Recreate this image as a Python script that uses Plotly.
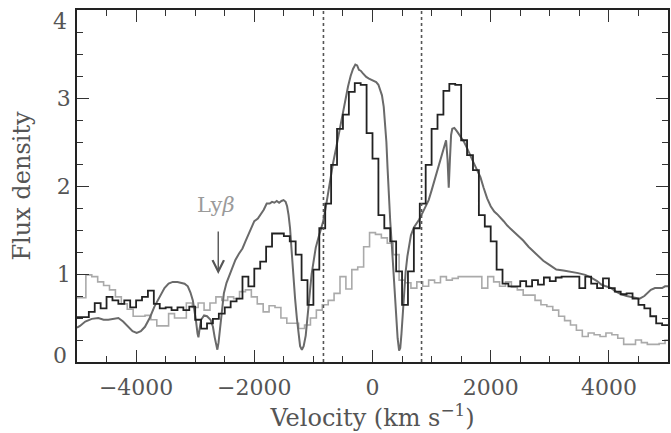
import numpy as np
import plotly.graph_objects as go

# ---------------- data ----------------
# black histogram: 100 km/s bins, left edges -5000 ... 4900
black_edges = np.arange(-5000, 5000, 100)
black_flux = [
    0.51, 0.51, 0.57, 0.67, 0.61, 0.74, 0.70, 0.66, 0.70, 0.62,
    0.70, 0.74, 0.81, 0.66, 0.61, 0.62, 0.59, 0.62, 0.59, 0.63,
    0.48, 0.38, 0.44, 0.49, 0.55, 0.62, 0.69, 0.72, 0.97, 0.86,
    1.06, 1.14, 1.31, 1.46, 1.46, 1.43, 1.37, 1.22, 0.93, 0.65,
    1.05, 1.52, 1.80, 2.24, 2.65, 2.81, 3.07, 3.17, 3.15, 2.60,
    2.31, 1.67, 1.52, 1.37, 1.03, 0.65, 1.03, 1.52, 1.80, 2.24,
    2.65, 2.81, 3.08, 3.16, 3.15, 2.52, 2.35, 2.18, 1.67, 1.54,
    1.37, 1.05, 0.89, 0.86, 0.86, 0.92, 0.86, 0.93, 0.88, 0.96,
    0.92, 0.96, 0.97, 0.97, 0.97, 0.84, 0.97, 0.89, 0.84, 0.95,
    0.84, 0.80, 0.77, 0.78, 0.72, 0.65, 0.61, 0.52, 0.44, 0.42,
]

# light grey histogram: 100 km/s bins centred on -5000 ... 5000
grey_centres = np.arange(-5000, 5001, 100)
grey_flux = [
    0.73, 0.73, 0.99, 0.97, 0.91, 0.87, 0.82, 0.74, 0.66, 0.60,
    0.52, 0.52, 0.53, 0.48, 0.41, 0.41, 0.55, 0.50, 0.50, 0.67,
    0.62, 0.67, 0.59, 0.67, 0.74, 0.70, 0.74, 0.72, 0.80, 0.82,
    0.74, 0.66, 0.57, 0.64, 0.62, 0.50, 0.44, 0.44, 0.38, 0.42,
    0.50, 0.59, 0.65, 0.70, 0.78, 0.97, 0.83, 1.05, 1.08, 1.31,
    1.47, 1.45, 1.41, 1.35, 1.22, 0.93, 0.90, 0.84, 0.91, 0.86,
    0.93, 0.90, 0.97, 0.93, 0.95, 0.97, 0.97, 0.97, 0.97, 0.84,
    0.97, 0.91, 0.86, 0.91, 0.85, 0.82, 0.76, 0.76, 0.70, 0.65,
    0.63, 0.59, 0.52, 0.47, 0.42, 0.36, 0.29, 0.33, 0.31, 0.29,
    0.33, 0.31, 0.27, 0.20, 0.20, 0.25, 0.22, 0.20, 0.20, 0.21,
    0.25,
]

# smooth dark-grey profile
smooth_vel = [
    -5000, -4950, -4860, -4750, -4640, -4550, -4470, -4380, -4300, -4220,
    -4130, -4060, -3990, -3920, -3850, -3770, -3690, -3600, -3520, -3450,
    -3380, -3300, -3240, -3180, -3125, -3080, -3040, -3010, -2985, -2960,
    -2945, -2925, -2900, -2850, -2800, -2740, -2700, -2670, -2640, -2625,
    -2605, -2575, -2545, -2515, -2470, -2430, -2370, -2320, -2260, -2200,
    -2150, -2090, -2040, -2000, -1940, -1880, -1840, -1790, -1740, -1700,
    -1660, -1620, -1580, -1540, -1505, -1470, -1445, -1420, -1395, -1370,
    -1340, -1310, -1280, -1250, -1225, -1195, -1165, -1130, -1095, -1060,
    -1030, -1000, -960, -920, -880, -834, -780, -722, -670, -610,
    -555, -498, -455, -414, -370, -330, -290, -260, -230, -200,
    -162, -130, -106, -60, -22, 20, 62, 100, 130, 160,
    190, 215, 235, 255, 275, 300, 325, 350, 375, 400,
    425, 450, 470, 490, 510, 535, 560, 590, 620, 650,
    700, 750, 790, 850, 900, 950, 1000, 1050, 1100, 1150,
    1200, 1245, 1270, 1290, 1310, 1330, 1350, 1385, 1430, 1490,
    1550, 1600, 1660, 1714, 1770, 1826, 1880, 1940, 2000, 2060,
    2110, 2170, 2220, 2280, 2330, 2400, 2450, 2550, 2640, 2700,
    2780, 2890, 3000, 3110, 3230, 3340, 3480, 3600, 3700, 3800,
    3870, 3950, 4040, 4120, 4210, 4300, 4380, 4460, 4520, 4600,
    4660, 4710, 4780, 4830, 4900, 4950, 5000,
]
smooth_flux = [
    0.39, 0.41, 0.46, 0.49, 0.50, 0.48, 0.48, 0.49, 0.50, 0.46,
    0.40, 0.35, 0.33, 0.35, 0.40, 0.50, 0.63, 0.75, 0.84, 0.89,
    0.91, 0.91, 0.90, 0.89, 0.86, 0.79, 0.70, 0.58, 0.46, 0.32,
    0.28, 0.38, 0.48, 0.53, 0.52, 0.48, 0.40, 0.28, 0.17, 0.14,
    0.22, 0.40, 0.62, 0.78, 0.90, 0.97, 1.07, 1.16, 1.23, 1.29,
    1.37, 1.46, 1.55, 1.60, 1.63, 1.69, 1.73, 1.80, 1.80, 1.82,
    1.81, 1.83, 1.81, 1.83, 1.84, 1.82, 1.77, 1.67, 1.52, 1.28,
    0.97, 0.72, 0.50, 0.30, 0.18, 0.14, 0.18, 0.30, 0.55, 0.80,
    1.00, 1.13, 1.30, 1.40, 1.50, 1.60, 1.80, 2.05, 2.25, 2.45,
    2.65, 2.86, 3.00, 3.13, 3.25, 3.33, 3.38, 3.37, 3.32, 3.31,
    3.28, 3.25, 3.24, 3.22, 3.21, 3.20, 3.18, 3.15, 3.10, 3.03,
    2.90, 2.72, 2.50, 2.20, 1.88, 1.60, 1.35, 1.05, 0.75, 0.50,
    0.27, 0.13, 0.16, 0.32, 0.55, 0.80, 1.02, 1.20, 1.33, 1.44,
    1.53, 1.58, 1.62, 1.70, 1.77, 1.84, 1.95, 2.07, 2.18, 2.29,
    2.40, 2.52, 2.30, 1.98, 2.30, 2.58, 2.65, 2.66, 2.62, 2.56,
    2.50, 2.43, 2.35, 2.26, 2.18, 2.10, 1.98, 1.86, 1.77, 1.71,
    1.68, 1.64, 1.60, 1.55, 1.52, 1.48, 1.45, 1.38, 1.31, 1.27,
    1.22, 1.15, 1.10, 1.05, 1.04, 1.03, 1.01, 0.99, 0.96, 0.92,
    0.88, 0.86, 0.84, 0.80, 0.77, 0.75, 0.74, 0.73, 0.72, 0.75,
    0.79, 0.82, 0.84, 0.84, 0.84, 0.86, 0.86,
]

marker_vel = [-830, 830]          # dotted reference velocities
lyb_vel, lyb_label = -2610, "Ly<i>β</i>"
x_ticks = [-4000, -2000, 0, 2000, 4000]
y_ticks = [0, 1, 2, 3, 4]
y_labels = ["0", "1", "2", "3", "4"]

FONT = "DejaVu Serif"
TXT = "#555555"
TICKSIZE = 22

# ---------------- figure ----------------
BIN = 100
fig = go.Figure()

gx = np.append(grey_centres - BIN / 2, grey_centres[-1] + BIN / 2)
gy = np.append(grey_flux, grey_flux[-1])
fig.add_trace(go.Scatter(x=gx, y=gy, mode="lines", line_shape="hv",
                         line=dict(color="#aaaaaa", width=1.6), hoverinfo="skip"))

fig.add_trace(go.Scatter(x=smooth_vel, y=smooth_flux, mode="lines",
                         line=dict(color="#6a6a6a", width=2.0), hoverinfo="skip"))

bx = np.append(black_edges, black_edges[-1] + BIN)
by = np.append(black_flux, black_flux[-1])
fig.add_trace(go.Scatter(x=bx, y=by, mode="lines", line_shape="hv",
                         line=dict(color="#222222", width=1.8), hoverinfo="skip"))

for v in marker_vel:
    fig.add_shape(type="line", xref="x", yref="paper", x0=v, x1=v, y0=0, y1=1,
                  line=dict(color="#555555", width=1.6, dash="dot"))

fig.add_annotation(x=lyb_vel - 30, y=1.78, text=lyb_label, showarrow=False,
                   font=dict(family=FONT, size=21, color="#9a9a9a"))
fig.add_annotation(x=lyb_vel, y=1.0, ax=lyb_vel, ay=1.5, axref="x", ayref="y",
                   text="", showarrow=True, arrowhead=5, arrowsize=1.6,
                   arrowwidth=1.4, arrowcolor="#555555")

# the end labels of the y axis sit just inside the frame, as in the original
end_shift = {0: 7, 4: -11}
tick_text = [("" if v in end_shift else lab) for v, lab in zip(y_ticks, y_labels)]
for v, lab in zip(y_ticks, y_labels):
    if v in end_shift:
        fig.add_annotation(xref="paper", x=0, y=v, yref="y", text=lab, showarrow=False,
                           xanchor="right", xshift=-8, yshift=end_shift[v],
                           font=dict(family=FONT, size=TICKSIZE, color=TXT))

axis_common = dict(showline=True, linecolor="#222222", linewidth=1.5, mirror="ticks",
                   ticks="inside", ticklen=12, tickwidth=1.2, tickcolor="#333333",
                   showgrid=False, zeroline=False,
                   tickfont=dict(family=FONT, size=TICKSIZE, color=TXT))

fig.update_xaxes(range=[-5000, 5000], tickvals=x_ticks, ticklabelstandoff=5,
                 minor=dict(dtick=500, tick0=0, ticklen=6, ticks="inside",
                            tickcolor="#333333", showgrid=False),
                 title=dict(text="Velocity (km s<sup>−1</sup>)", standoff=6,
                            font=dict(family=FONT, size=24, color=TXT)),
                 **axis_common)
fig.update_yaxes(range=[0, 4], tickvals=y_ticks, ticktext=tick_text,
                 minor=dict(dtick=0.25, tick0=0, ticklen=6, ticks="inside",
                            tickcolor="#333333", showgrid=False),
                 title=dict(text="Flux density", standoff=19,
                            font=dict(family=FONT, size=24, color=TXT)),
                 **axis_common)

fig.update_layout(width=671, height=433, margin=dict(l=77, r=1, t=10, b=71),
                  plot_bgcolor="white", paper_bgcolor="white", showlegend=False)

fig.write_html("out.html")
